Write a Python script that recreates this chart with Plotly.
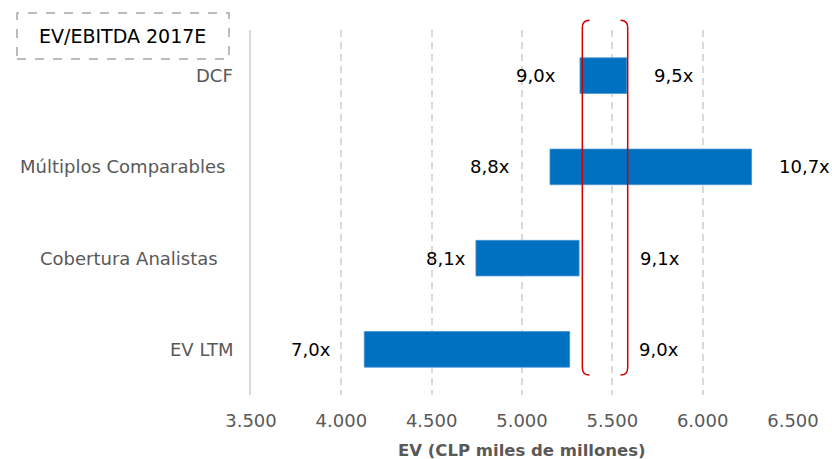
import plotly.graph_objects as go

# Valuation ranges (EV, CLP miles de millones) and the implied EV/EBITDA multiples
categories = ["DCF", "Múltiplos Comparables", "Cobertura Analistas", "EV LTM"]
ev_low = [5321, 5155, 4745, 4127]
ev_high = [5580, 6271, 5316, 5264]
mult_low = ["9,0x", "8,8x", "8,1x", "7,0x"]
mult_high = ["9,5x", "10,7x", "9,1x", "9,0x"]
x_ticks = [3500, 4000, 4500, 5000, 5500, 6000, 6500]
x_tick_text = ["3.500", "4.000", "4.500", "5.000", "5.500", "6.000", "6.500"]
bracket_range = [5334, 5585]

# label spacing (pixels) from bar ends, and right edge offsets for category names
gap_low = [22, 38, 8, 31]
gap_high = [25, 25, 59, 67]
cat_label_shift = [-16, -24, -31, -16]

FONT = "DejaVu Sans"
GRAY = "#595959"
BLUE = "#0070C0"
RED = "#D00000"

fig = go.Figure()
fig.add_trace(go.Bar(
    y=categories,
    x=[h - l for l, h in zip(ev_low, ev_high)],
    base=ev_low,
    orientation="h",
    width=0.39,
    marker=dict(color=BLUE, line=dict(color="#4a93d3", width=0.8)),
    hoverinfo="skip",
))

annotations = []
for i, cat in enumerate(categories):
    annotations.append(dict(
        x=ev_low[i], y=cat, xref="x", yref="y", text=mult_low[i],
        xanchor="right", yanchor="middle", xshift=-gap_low[i], showarrow=False,
        font=dict(family=FONT, size=18, color="#000000"),
    ))
    annotations.append(dict(
        x=ev_high[i], y=cat, xref="x", yref="y", text=mult_high[i],
        xanchor="left", yanchor="middle", xshift=gap_high[i], showarrow=False,
        font=dict(family=FONT, size=18, color="#000000"),
    ))
    annotations.append(dict(
        x=0, y=cat, xref="paper", yref="y", text=cat,
        xanchor="right", yanchor="middle", xshift=cat_label_shift[i], showarrow=False,
        font=dict(family=FONT, size=18, color=GRAY),
    ))

# boxed heading in the top-left corner
annotations.append(dict(
    x=-0.237, y=0.9836, xref="paper", yref="paper", text="EV/EBITDA 2017E",
    xanchor="center", yanchor="middle", showarrow=False,
    font=dict(family=FONT, size=19, color="#000000"),
))

# x axis title
annotations.append(dict(
    x=0.5, y=-0.1507, xref="paper", yref="paper",
    text="<b>EV (CLP miles de millones)</b>",
    xanchor="center", yanchor="middle", showarrow=False,
    font=dict(family=FONT, size=16.5, color=GRAY),
))

shapes = [
    dict(type="rect", xref="paper", yref="paper", x0=-0.4317, x1=-0.0406,
         y0=0.9205, y1=1.0466, line=dict(color="#A6A6A6", width=1.5, dash="dash")),
]

# rounded bracket around the reference range
xl, xr = bracket_range
rx = 40
top, bot, ry = 1.027, 0.055, 0.02
left_path = (f"M {xl + rx},{top} Q {xl},{top} {xl},{top - ry} "
             f"L {xl},{bot + ry} Q {xl},{bot} {xl + rx},{bot}")
right_path = (f"M {xr - rx},{top} Q {xr},{top} {xr},{top - ry} "
              f"L {xr},{bot + ry} Q {xr},{bot} {xr - rx},{bot}")
for p in (left_path, right_path):
    shapes.append(dict(type="path", xref="x", yref="paper", path=p,
                       line=dict(color=RED, width=1.5)))

fig.update_layout(
    width=832, height=459,
    margin=dict(l=251, r=39, t=30, b=64),
    paper_bgcolor="white", plot_bgcolor="white",
    showlegend=False,
    annotations=annotations,
    shapes=shapes,
    xaxis=dict(
        range=[3500, 6500],
        tickvals=x_ticks, ticktext=x_tick_text,
        tickfont=dict(family=FONT, size=18, color=GRAY),
        showgrid=True, gridcolor="#D9D9D9", gridwidth=2, griddash="7px,5px",
        zeroline=False, showline=False,
        ticks="outside", ticklen=9, tickcolor="rgba(0,0,0,0)",
        automargin=False,
        fixedrange=True,
    ),
    yaxis=dict(
        categoryorder="array", categoryarray=categories[::-1],
        showticklabels=False, showgrid=False, zeroline=False,
        showline=True, linecolor="#D9D9D9", linewidth=2,
        automargin=False,
        fixedrange=True,
    ),
)

fig.write_html("out.html")
